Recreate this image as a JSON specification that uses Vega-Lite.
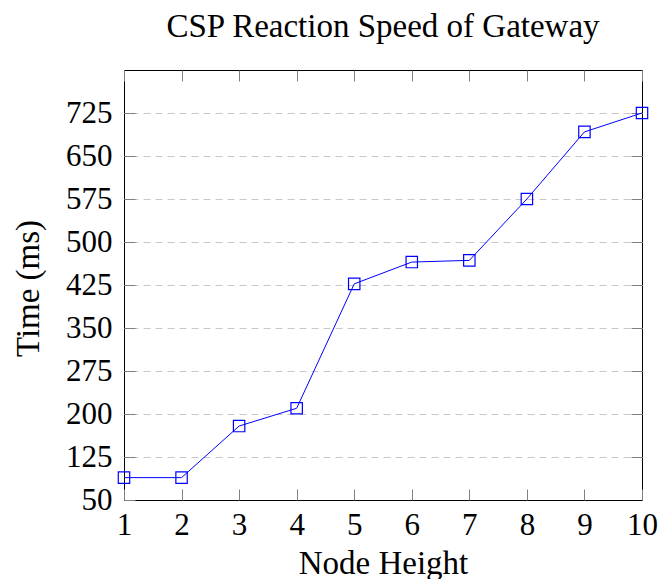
{
  "$schema": "https://vega.github.io/schema/vega-lite/v6.json",
  "width": 518,
  "height": 430,
  "autosize": {"type": "none"},
  "padding": {"left": 124, "top": 70, "right": 17, "bottom": 79},
  "title": {
    "text": "CSP Reaction Speed of Gateway",
    "font": "Liberation Serif",
    "fontSize": 33,
    "fontWeight": "normal",
    "color": "#000000",
    "anchor": "middle",
    "baseline": "alphabetic",
    "offset": 0
  },
  "config": {
    "view": {"stroke": "#000000", "strokeWidth": 1},
    "axis": {
      "domain": false,
      "tickColor": "#808080",
      "tickWidth": 1,
      "tickSize": -11,
      "labelFont": "Liberation Serif",
      "labelFontSize": 31,
      "labelColor": "#000000",
      "titleFont": "Liberation Serif",
      "titleFontSize": 33,
      "titleFontWeight": "normal",
      "titleColor": "#000000"
    }
  },
  "data": {
    "values": [
      {"height": 1, "time": 89},
      {"height": 2, "time": 89},
      {"height": 3, "time": 179},
      {"height": 4, "time": 210},
      {"height": 5, "time": 427},
      {"height": 6, "time": 465},
      {"height": 7, "time": 468},
      {"height": 8, "time": 575},
      {"height": 9, "time": 692},
      {"height": 10, "time": 725}
    ]
  },
  "layer": [
    {
      "mark": {
        "type": "line",
        "color": "#0000ff",
        "strokeWidth": 1,
        "clip": false,
        "point": {"shape": "square", "filled": false, "size": 130, "stroke": "#0000ff", "strokeWidth": 1.2}
      },
      "encoding": {
        "x": {
          "field": "height",
          "type": "quantitative",
          "scale": {"domain": [1, 10], "nice": false, "zero": false},
          "axis": {
            "orient": "bottom",
            "title": "Node Height",
            "values": [1, 2, 3, 4, 5, 6, 7, 8, 9, 10],
            "grid": false,
            "labelPadding": 45,
            "labelBaseline": "alphabetic",
            "labelFlush": false,
            "labelOverlap": false,
            "titleBaseline": "alphabetic",
            "titleY": 73,
            "titleX": 259
          }
        },
        "y": {
          "field": "time",
          "type": "quantitative",
          "scale": {"domain": [50, 800], "nice": false, "zero": false},
          "axis": {
            "orient": "left",
            "title": "Time (ms)",
            "values": [50, 125, 200, 275, 350, 425, 500, 575, 650, 725],
            "grid": false,
            "labelPadding": 23,
            "labelFlush": false,
            "labelOverlap": false,
            "titleBaseline": "alphabetic",
            "titleX": -86,
            "titleY": 218,
            "titleAngle": 270
          }
        }
      }
    },
    {
      "mark": {"type": "point", "opacity": 0},
      "encoding": {
        "x": {
          "field": "height",
          "type": "quantitative",
          "axis": {
            "orient": "top",
            "title": null,
            "labels": false,
            "grid": false,
            "values": [1, 2, 3, 4, 5, 6, 7, 8, 9, 10]
          }
        },
        "y": {
          "field": "time",
          "type": "quantitative",
          "axis": {
            "orient": "right",
            "title": null,
            "labels": false,
            "grid": true,
            "gridColor": "#c8c8c8",
            "gridDash": [7, 5],
            "gridWidth": 1,
            "values": [125, 200, 275, 350, 425, 500, 575, 650, 725]
          }
        }
      }
    }
  ],
  "resolve": {"axis": {"x": "independent", "y": "independent"}}
}
